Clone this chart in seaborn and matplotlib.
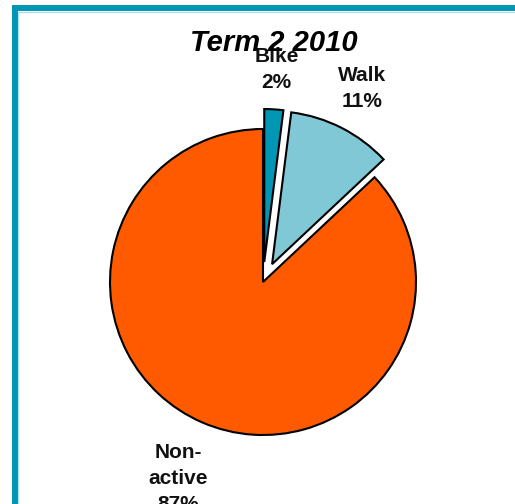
import numpy as np
import matplotlib
matplotlib.use("Agg")
import matplotlib.pyplot as plt
import seaborn as sns
from matplotlib.patches import Rectangle

labels = ["Bike", "Walk", "Non-\nactive"]
shares = [2, 11, 87]
pct_text = ["2%", "11%", "87%"]
colors = ["#0096B4", "#80C8D6", "#FF5A00"]

sns.set_theme(style="white")
plt.rcParams['font.family'] = ['Liberation Sans', 'DejaVu Sans']

fig = plt.figure(figsize=(5.15, 5.04), dpi=100)
ax = fig.add_axes([0, 0, 1, 1])

# pie centre / radius in pixel units of the full-figure axes (explode is absolute there too)
cx, cy, r = 263, 504 - 282, 153
wedges, _ = ax.pie(shares, colors=colors, explode=[20, 20, 0], startangle=90, counterclock=False,
                   center=(cx, cy), radius=r, frame=True,
                   wedgeprops=dict(edgecolor="black", linewidth=1.5))
ax.set_xlim(0, 515)
ax.set_ylim(0, 504)
ax.axis("off")

label_dist = [1.26, 1.29, 1.40]
for w, lab, pct, d in zip(wedges, labels, pct_text, label_dist):
    th = np.deg2rad((w.theta1 + w.theta2) / 2)
    x = w.center[0] + d * w.r * np.cos(th)
    y = w.center[1] + d * w.r * np.sin(th)
    ax.text(x, y, lab + "\n" + pct, ha="center", va="center", fontsize=15,
            fontweight="bold", linespacing=1.45, color="#111111")

ax.text(274, 504 - 43, "Term 2 2010", ha="center", va="center", fontsize=21,
        fontweight="bold", fontstyle="italic", color="black")

# teal frame (runs off the right and bottom edges)
fig.add_artist(Rectangle((14.5 / 515, -0.1), 1.2, (504 - 8) / 504 + 0.1, transform=fig.transFigure,
                         fill=False, edgecolor="#0096B4", linewidth=4.3))
fig.add_artist(Rectangle((18 / 515, -0.1), 1.2, (504 - 11.5) / 504 + 0.1, transform=fig.transFigure,
                         fill=False, edgecolor="#A8DCE8", linewidth=0.8))

fig.savefig("out.png", dpi=100)
